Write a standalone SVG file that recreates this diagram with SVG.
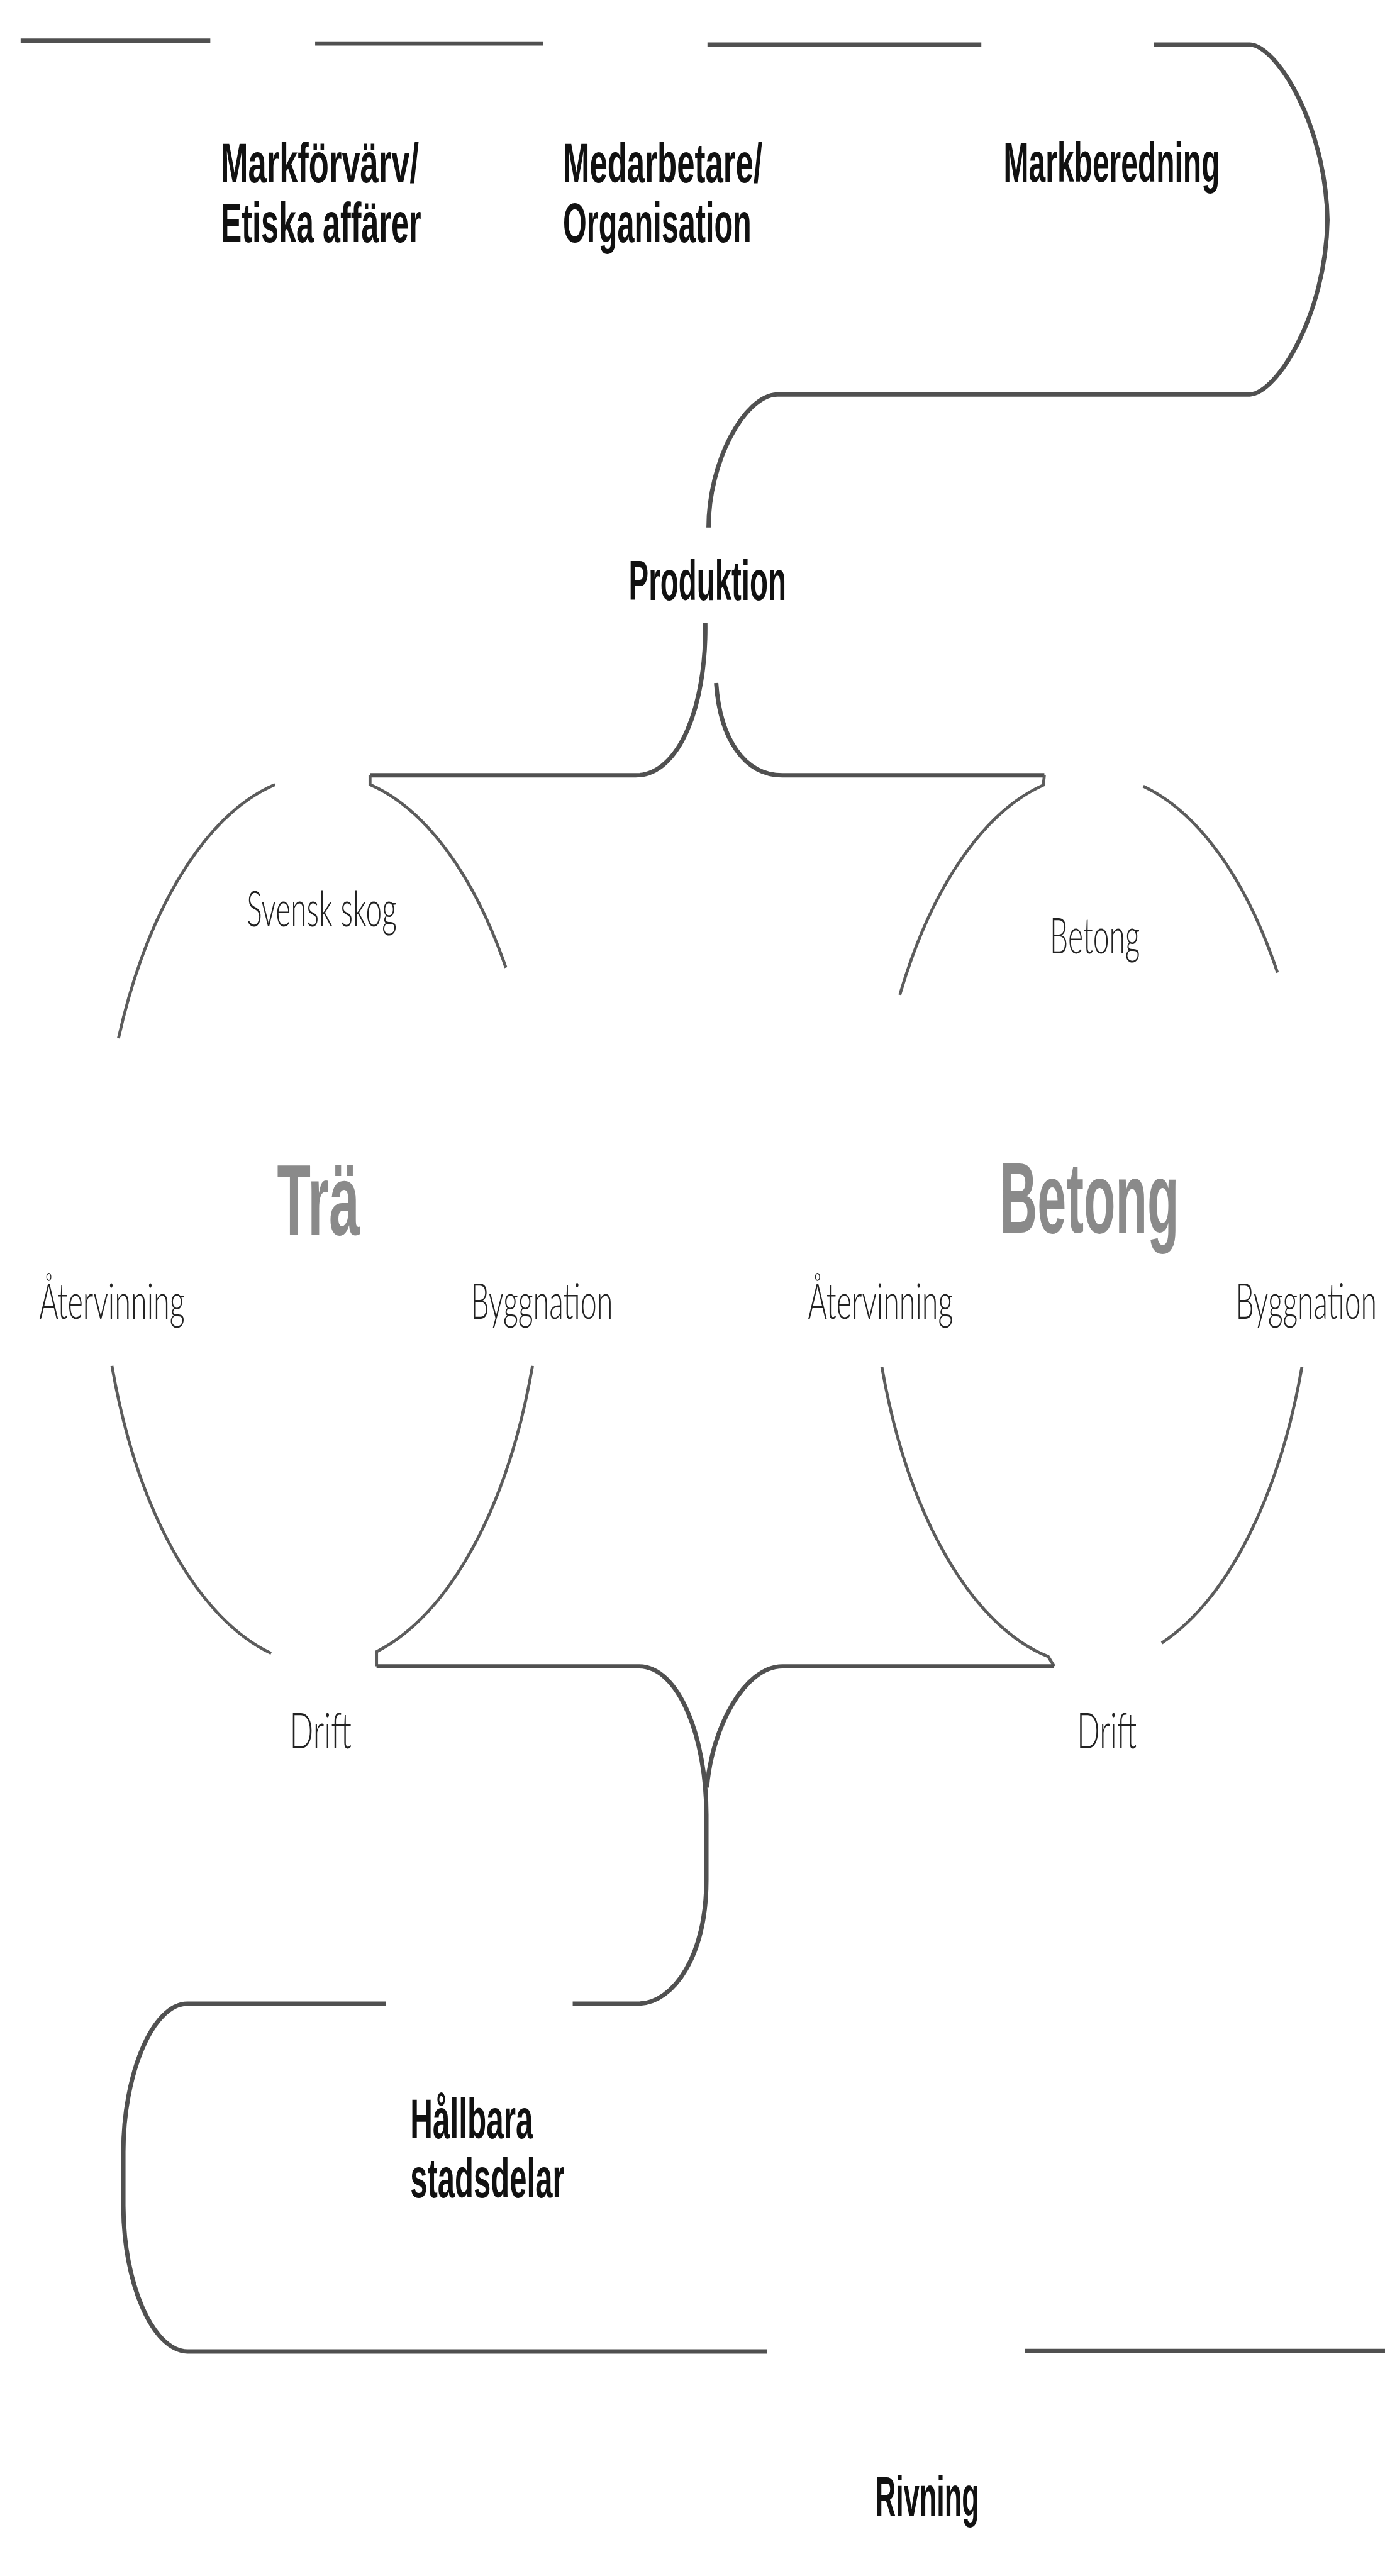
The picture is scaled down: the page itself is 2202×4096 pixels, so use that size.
<svg xmlns="http://www.w3.org/2000/svg" width="2202" height="4096" viewBox="0 0 2202 4096">
<style>
.ln{fill:none;stroke:#505050;stroke-width:8;stroke-linecap:butt;stroke-linejoin:round}
.arc{fill:none;stroke:#5c5c5c;stroke-width:5.5;stroke-linecap:butt}
.b{font-family:"Liberation Sans",Arial,sans-serif;font-weight:bold;font-size:104px;fill:#111}
.l{font-family:Lato,"Liberation Sans",Arial,sans-serif;font-weight:300;font-size:92px;fill:#222}
.big{font-family:"Liberation Sans",Arial,sans-serif;font-weight:bold;font-size:184px;fill:#8a8a8a}
</style>
<rect width="2202" height="4096" fill="#fff"/>
<g transform="scale(0.8639)">
<g id="connectors">
<path class="ln" d="M38,75 H387"/>
<path class="ln" d="M580,80 H999"/>
<path class="ln" d="M1302,82 H1806"/>
<path class="ln" d="M2124,82 H2300 C2350,84 2440,230 2443,405 C2440,580 2350,724 2300,726 H1430 C1370,728 1304,850 1304,971"/>
<path class="ln" d="M1298,1147 C1300,1300 1250,1427 1170,1427 H681"/>
<path class="arc" d="M681,1427 L681,1444 A410,820 0 0 1 931,1781"/>
<path class="ln" d="M1318,1257 C1325,1360 1370,1427 1440,1427 H1922"/>
<path class="arc" d="M1922,1427 L1920,1445 A410,820 0 0 0 1656,1831"/>
<path class="arc" d="M506,1444 A410,820 0 0 0 218,1911"/>
<path class="arc" d="M2104,1447 A410,820 0 0 1 2351,1790"/>
<path class="arc" d="M206,2514 A410,820 0 0 0 499,3043"/>
<path class="arc" d="M2396,2516 A410,820 0 0 1 2138,3024"/>
<path class="arc" d="M980,2514 A410,820 0 0 1 693,3040 L693,3067"/>
<path class="ln" d="M693,3067 H1176 C1250,3067 1300,3200 1300,3340 L1300,3460 C1300,3600 1240,3686 1176,3688 H1054"/>
<path class="arc" d="M1623,2516 A410,820 0 0 0 1929,3049 L1940,3067"/>
<path class="ln" d="M1940,3067 H1440 C1370,3067 1310,3180 1301,3290"/>
<path class="ln" d="M710,3688 H345 C280,3688 227,3820 227,3960 L227,4060 C227,4200 280,4327 345,4328 H1412"/>
<path class="ln" d="M1886,4327 H2549"/>
</g>
<g id="n-markforvarv">
<text class="b" x="406" y="336" textLength="365" lengthAdjust="spacingAndGlyphs">Markförvärv/</text>
<text class="b" x="406" y="446" textLength="369" lengthAdjust="spacingAndGlyphs">Etiska affärer</text>
</g>
<g id="n-medarbetare">
<text class="b" x="1036" y="336" textLength="367" lengthAdjust="spacingAndGlyphs">Medarbetare/</text>
<text class="b" x="1036" y="446" textLength="347" lengthAdjust="spacingAndGlyphs">Organisation</text>
</g>
<g id="n-markberedning">
<text class="b" x="2245" y="334" text-anchor="end" textLength="398" lengthAdjust="spacingAndGlyphs">Markberedning</text>
</g>
<g id="n-produktion">
<text class="b" x="1157" y="1104" textLength="290" lengthAdjust="spacingAndGlyphs">Produktion</text>
</g>
<g id="n-svensk-skog">
<text class="l" x="454" y="1705" textLength="276" lengthAdjust="spacingAndGlyphs">Svensk skog</text>
</g>
<g id="n-betong-kalla">
<text class="l" x="1932" y="1755" textLength="166" lengthAdjust="spacingAndGlyphs">Betong</text>
</g>
<g id="n-tra">
<text class="big" x="510" y="2272" textLength="152" lengthAdjust="spacingAndGlyphs">Trä</text>
</g>
<g id="n-betong">
<text class="big" x="1840" y="2269" textLength="330" lengthAdjust="spacingAndGlyphs">Betong</text>
</g>
<g id="n-atervinning-tra">
<text class="l" x="72" y="2427" textLength="268" lengthAdjust="spacingAndGlyphs">Återvinning</text>
</g>
<g id="n-byggnation-tra">
<text class="l" x="866" y="2427" textLength="262" lengthAdjust="spacingAndGlyphs">Byggnation</text>
</g>
<g id="n-atervinning-betong">
<text class="l" x="1487" y="2427" textLength="267" lengthAdjust="spacingAndGlyphs">Återvinning</text>
</g>
<g id="n-byggnation-betong">
<text class="l" x="2534" y="2427" text-anchor="end" textLength="260" lengthAdjust="spacingAndGlyphs">Byggnation</text>
</g>
<g id="n-drift-tra">
<text class="l" x="533" y="3218" textLength="114" lengthAdjust="spacingAndGlyphs">Drift</text>
</g>
<g id="n-drift-betong">
<text class="l" x="1982" y="3218" textLength="110" lengthAdjust="spacingAndGlyphs">Drift</text>
</g>
<g id="n-hallbara">
<text class="b" x="755" y="3936" textLength="226" lengthAdjust="spacingAndGlyphs">Hållbara</text>
<text class="b" x="755" y="4045" textLength="284" lengthAdjust="spacingAndGlyphs">stadsdelar</text>
</g>
<g id="n-rivning">
<text class="b" x="1611" y="4630" textLength="191" lengthAdjust="spacingAndGlyphs">Rivning</text>
</g>
</g>
</svg>
